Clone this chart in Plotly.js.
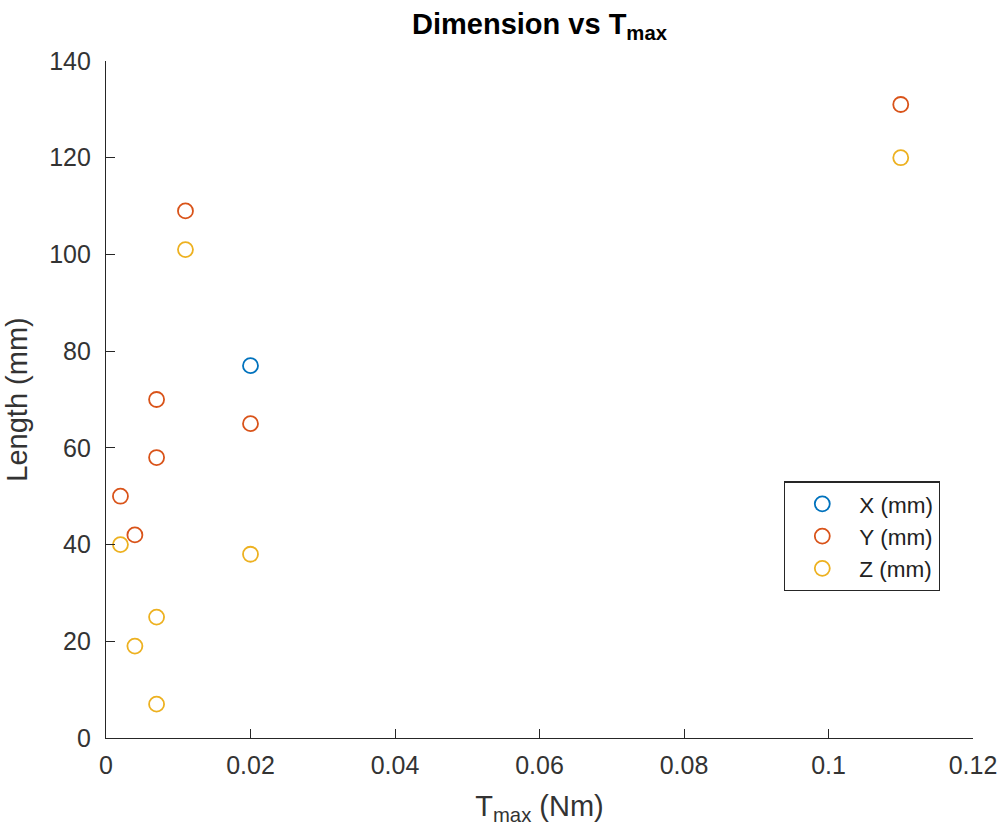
<!DOCTYPE html>
<html>
<head>
<meta charset="utf-8">
<script src="https://cdn.plot.ly/plotly-3.0.1.min.js"></script>
<style>
  html, body { margin: 0; padding: 0; background: #ffffff; }
  #chart { width: 1003px; height: 836px; }
</style>
</head>
<body>
<div id="chart"></div>
<script>
// Maximum torque (Nm) for each sample
const tmaxX = [0.02];
const tmaxYZ = [0.002, 0.004, 0.007, 0.007, 0.011, 0.02, 0.11];

// Measured dimensions (mm)
const lenX = [77];
const lenY = [50, 42, 58, 70, 109, 65, 131];
const lenZ = [40, 19, 7, 25, 101, 38, 120];

const seriesNames = ['X (mm)', 'Y (mm)', 'Z (mm)'];
const seriesColors = ['#0072BD', '#D95319', '#EDB120'];

const FONT = '"Liberation Sans", Arial, Helvetica, sans-serif';
const AXIS_COLOR = '#262626';

function openCircles(x, y, i) {
  return {
    type: 'scatter',
    mode: 'markers',
    name: seriesNames[i],
    x: x,
    y: y,
    marker: {
      symbol: 'circle-open',
      size: 15,
      color: seriesColors[i],
      line: { width: 1.8, color: seriesColors[i] }
    },
    hoverinfo: 'x+y+name'
  };
}

const data = [
  openCircles(tmaxX, lenX, 0),
  openCircles(tmaxYZ, lenY, 1),
  openCircles(tmaxYZ, lenZ, 2)
];

const axisCommon = {
  showgrid: false,
  zeroline: false,
  showline: true,
  linecolor: AXIS_COLOR,
  linewidth: 1.3,
  ticks: 'inside',
  ticklen: 9,
  tickwidth: 1.3,
  tickcolor: AXIS_COLOR,
  tickfont: { family: FONT, size: 25, color: '#333333' },
  automargin: false,
  fixedrange: true
};

const layout = {
  width: 1003,
  height: 836,
  paper_bgcolor: '#ffffff',
  plot_bgcolor: '#ffffff',
  margin: { l: 105.5, r: 30, t: 61, b: 98 },
  font: { family: FONT, color: AXIS_COLOR },
  title: {
    text: '<b>Dimension vs T<sub>max</sub></b>',
    font: { family: FONT, size: 29, color: '#000000' },
    x: 0.5,
    xref: 'paper',
    xanchor: 'center',
    y: 0.971,
    yref: 'container',
    yanchor: 'middle'
  },
  xaxis: Object.assign({}, axisCommon, {
    range: [0, 0.12],
    tick0: 0,
    dtick: 0.02,
    ticklabelstandoff: 5,
    title: {
      text: 'T<sub>max</sub> (Nm)',
      font: { family: FONT, size: 29, color: '#333333' },
      standoff: 17
    }
  }),
  yaxis: Object.assign({}, axisCommon, {
    range: [0, 140],
    tick0: 0,
    dtick: 20,
    ticklabelstandoff: 9,
    title: {
      text: 'Length (mm)',
      font: { family: FONT, size: 29, color: '#333333' },
      standoff: 12
    }
  }),
  showlegend: true,
  legend: {
    x: 0.782,
    y: 0.379,
    xanchor: 'left',
    yanchor: 'top',
    bgcolor: '#ffffff',
    bordercolor: AXIS_COLOR,
    borderwidth: 1.3,
    itemwidth: 64,
    font: { family: FONT, size: 22.5, color: '#222222' }
  }
};

Plotly.newPlot('chart', data, layout, { displayModeBar: false });
</script>
</body>
</html>
